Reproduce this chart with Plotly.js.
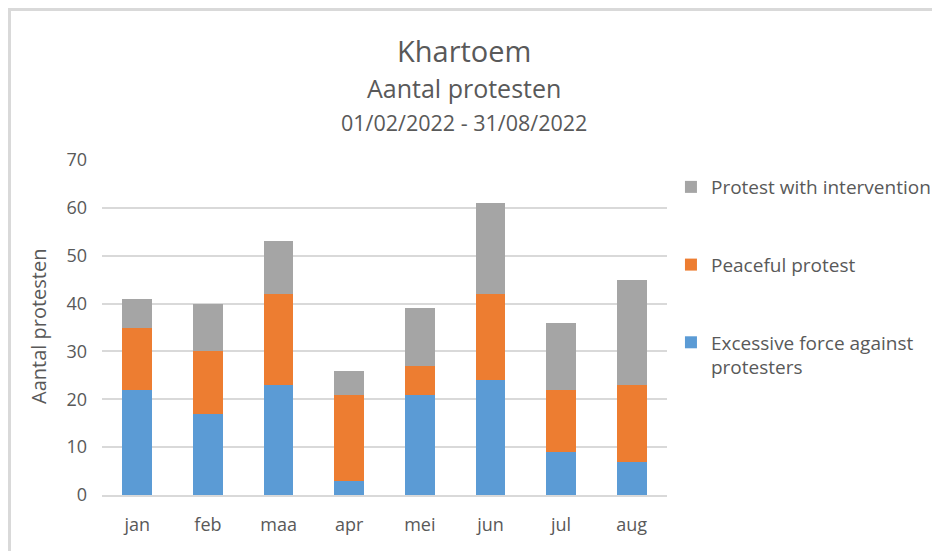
<!DOCTYPE html>
<html>
<head>
<meta charset="utf-8">
<script src="https://cdn.plot.ly/plotly-3.0.1.min.js"></script>
<style>
html,body{margin:0;padding:0;background:#fff;overflow:hidden;}
#wrap{position:relative;width:932px;height:551px;overflow:hidden;}
#chart{position:absolute;left:0;top:0;width:932px;height:551px;}
#frame{position:absolute;left:8px;top:8px;width:940px;height:560px;border-left:3px solid #d9d9d9;border-top:3px solid #d9d9d9;pointer-events:none;}
</style>
</head>
<body>
<div id="wrap"><div id="chart"></div><div id="frame"></div></div>
<script>
const months = ['jan','feb','maa','apr','mei','jun','jul','aug'];
const excessiveForce = [22,17,23,3,21,24,9,7];
const peaceful = [13,13,19,18,6,18,13,16];
const intervention = [6,10,11,5,12,19,14,22];
const seriesNames = ['Excessive force against<br>protesters','Peaceful protest','Protest with intervention'];
const yTicks = [0,10,20,30,40,50,60,70];

const FONT = 'Open Sans, Liberation Sans, sans-serif';
const TXT = '#595959';

const traces = [
  {x: months, y: excessiveForce, name: seriesNames[0], type:'bar', marker:{color:'#5B9BD5'}, legendgroup:'a', legendrank:3},
  {x: months, y: peaceful, name: seriesNames[1], type:'bar', marker:{color:'#ED7D31'}, legendgroup:'b', legendrank:2},
  {x: months, y: intervention, name: seriesNames[2], type:'bar', marker:{color:'#A5A5A5'}, legendgroup:'c', legendrank:1}
];

const layout = {
  width: 932, height: 551,
  margin: {l:102, r:265, t:160, b:56, autoexpand:false},
  barmode: 'stack',
  bargap: 0.58,
  paper_bgcolor:'#fff', plot_bgcolor:'#fff',
  font: {family: FONT, color: TXT, size: 18},
  xaxis: {
    type:'category', showgrid:false, showline:true, linecolor:'#d9d9d9', linewidth:1.5,
    ticks:'', ticklabelstandoff: 13, tickfont:{size:18, color:TXT}
  },
  yaxis: {
    range:[0,70], tickvals: yTicks, showgrid:true, gridcolor:'#d9d9d9', gridwidth:1.5,
    zeroline:false, showline:false, ticks:'', ticklabelstandoff: 14, tickfont:{size:18, color:TXT}
  },
  showlegend: true,
  legend: {
    x: 1.007, xanchor:'left', y: 0.976, yanchor:'top',
    traceorder:'grouped', tracegroupgap: 50, valign:'top',
    font:{size:19, color:TXT}, itemwidth:30, bgcolor:'rgba(0,0,0,0)'
  },
  annotations: [
    {text:'Khartoem', xref:'paper', yref:'paper', x:0.641, y:1.328, xanchor:'center', yanchor:'middle', showarrow:false, font:{size:29, color:TXT}},
    {text:'Aantal protesten', xref:'paper', yref:'paper', x:0.641, y:1.215, xanchor:'center', yanchor:'middle', showarrow:false, font:{size:25, color:TXT}},
    {text:'01/02/2022 - 31/08/2022', xref:'paper', yref:'paper', x:0.641, y:1.113, xanchor:'center', yanchor:'middle', showarrow:false, font:{size:21.5, color:TXT}},
    {text:'Aantal protesten', xref:'paper', yref:'paper', x:(38-102)/565, y:(495-327)/335, xanchor:'center', yanchor:'middle', textangle:-90, showarrow:false, font:{size:20, color:TXT}}
  ]
};

Plotly.newPlot('chart', traces, layout, {displayModeBar:false, responsive:false});
</script>
</body>
</html>
